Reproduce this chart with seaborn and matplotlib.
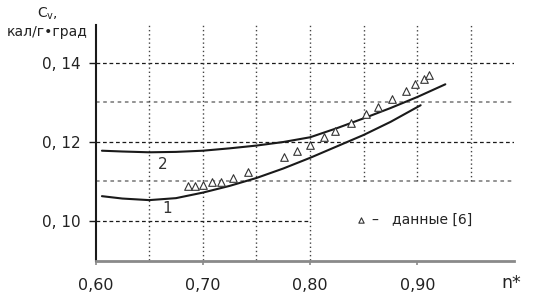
import matplotlib
matplotlib.use("Agg")
import matplotlib.pyplot as plt
import pandas as pd
import seaborn as sns

# curve 1 (calculated)
curve1_n = [0.606, 0.625, 0.650, 0.675, 0.700, 0.725, 0.750, 0.775,
            0.800, 0.825, 0.850, 0.875, 0.903]
curve1_cv = [0.1062, 0.1056, 0.1052, 0.1057, 0.1071, 0.1088, 0.1108, 0.1132,
             0.1159, 0.1188, 0.1217, 0.1250, 0.1292]

# curve 2 (calculated)
curve2_n = [0.606, 0.625, 0.650, 0.675, 0.700, 0.725, 0.750, 0.775,
            0.800, 0.825, 0.850, 0.875, 0.900, 0.926]
curve2_cv = [0.1177, 0.1175, 0.1173, 0.1174, 0.1177, 0.1183, 0.1190, 0.1199,
             0.1211, 0.1234, 0.1259, 0.1285, 0.1313, 0.1345]

# experimental points, "данные [6]"
data_n = [0.6866, 0.6928, 0.7006, 0.7084, 0.7168, 0.7285, 0.7425, 0.7752,
          0.7882, 0.7995, 0.8134, 0.8234, 0.8381, 0.8523, 0.8632, 0.8763,
          0.8896, 0.8980, 0.9058, 0.9104]
data_cv = [0.1088, 0.1088, 0.1089, 0.1097, 0.1099, 0.1108, 0.1124, 0.1162,
           0.1177, 0.1191, 0.1212, 0.1227, 0.1247, 0.1269, 0.1288, 0.1309,
           0.1328, 0.1347, 0.1358, 0.1368]

x_ticks = [0.60, 0.70, 0.80, 0.90]
x_tick_labels = ["0,60", "0,70", "0,80", "0,90"]
y_ticks = [0.10, 0.12, 0.14]
y_tick_labels = ["0, 10", "0, 12", "0, 14"]

sns.set_style("white")
plt.rcParams["font.family"] = ["DejaVu Sans"]

fig = plt.figure(figsize=(5.34, 3.02), dpi=100)
ax = fig.add_axes([95.5 / 534, 41 / 302, (514 - 95.5) / 534, (261 - 25) / 302])

ink = "#1a1a1a"
grey = "#8a8a8a"

# grid, drawn by hand because some lines stop short of the legend corner
ax.hlines([0.12, 0.14], 0.60, 0.99, color=ink, lw=0.9, ls=(0, (3, 2.2)), zorder=1)
ax.hlines([0.10], 0.60, 0.80, color=ink, lw=0.9, ls=(0, (3, 2.2)), zorder=1)
ax.hlines([0.11, 0.13], 0.60, 0.99, color=grey, lw=1.3, ls=(0, (2, 2)), zorder=1)
ax.vlines([0.65, 0.70, 0.75, 0.80], 0.09, 0.1495, color="#444444", lw=1.0,
          ls=(0, (1, 2)), zorder=1)
ax.vlines([0.85, 0.90, 0.95], 0.11, 0.1495, color="#444444", lw=1.0,
          ls=(0, (1, 2)), zorder=1)

df1 = pd.DataFrame({"n": curve1_n, "cv": curve1_cv})
df2 = pd.DataFrame({"n": curve2_n, "cv": curve2_cv})
dfd = pd.DataFrame({"n": data_n, "cv": data_cv})

sns.lineplot(data=df1, x="n", y="cv", color=ink, lw=1.5, ax=ax, zorder=3)
sns.lineplot(data=df2, x="n", y="cv", color=ink, lw=1.5, ax=ax, zorder=3)
sns.scatterplot(data=dfd, x="n", y="cv", marker="^", s=30, facecolor="white",
                edgecolor="#333333", linewidth=0.8, ax=ax, zorder=4,
                label="–   данные [6]")

ax.text(0.6627, 0.1141, "2", fontsize=11, color="#333333", ha="center", va="center")
ax.text(0.6667, 0.1032, "1", fontsize=11, color="#333333", ha="center", va="center")

ax.set_xlim(0.60, 0.99)
ax.set_ylim(0.0898, 0.1495)
ax.set_xticks(x_ticks)
ax.set_xticklabels(x_tick_labels, fontsize=11.5, color="#222222")
ax.set_yticks(y_ticks)
ax.set_yticklabels(y_tick_labels, fontsize=11, color="#222222")
ax.tick_params(axis="y", direction="out", length=5, width=1, color=ink, pad=6, left=True)
ax.tick_params(axis="x", direction="out", length=3, width=1.2, color=grey, pad=9, bottom=True)
ax.set_xlabel("")
ax.set_ylabel("")

for side in ("top", "right"):
    ax.spines[side].set_visible(False)
ax.spines["left"].set_color(ink)
ax.spines["left"].set_linewidth(1.5)
ax.spines["bottom"].set_color(grey)
ax.spines["bottom"].set_linewidth(2)

leg = ax.legend(loc="center left", bbox_to_anchor=(0.618, 0.175), frameon=False,
                fontsize=10, markerscale=0.7, handletextpad=0.3, handlelength=1.0,
                borderpad=0, borderaxespad=0)
for t in leg.get_texts():
    t.set_color("#222222")

fig.text(47 / 534, 1 - 14 / 302, r"C$_\mathregular{v}$,", fontsize=10,
         ha="center", va="center", color="#222222")
fig.text(47 / 534, 1 - 32 / 302, "кал/г•град", fontsize=10,
         ha="center", va="center", color="#222222")
fig.text(511 / 534, 1 - 283 / 302, "n*", fontsize=12.5,
         ha="center", va="center", color="#222222")

fig.savefig("out.png", dpi=100)
plt.close(fig)
